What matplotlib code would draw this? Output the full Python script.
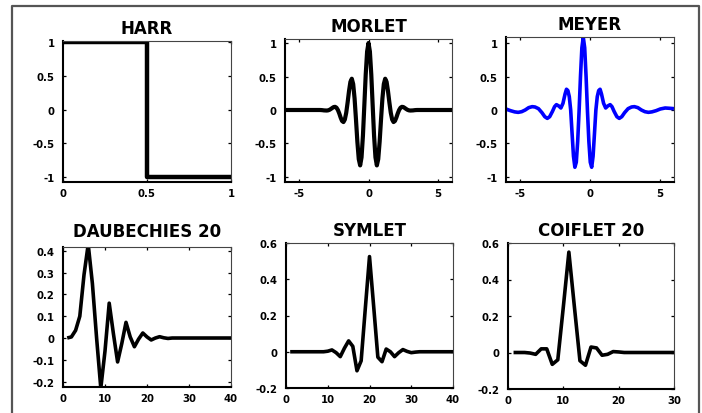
import numpy as np
import matplotlib.pyplot as plt
from matplotlib.lines import Line2D

plt.rcParams["font.family"] = "DejaVu Sans"
plt.rcParams["font.weight"] = "bold"

# Haar step
harr_x = [0, 0.5, 0.5, 1]
harr_y = [1, 1, -1, -1]

# Morlet, sampled every 0.1 around the centre
morlet_x = [-6.0, -3.5, -3.4, -3.3, -3.2, -3.1, -3.0, -2.9, -2.8, -2.7, -2.6,
            -2.5, -2.4, -2.3, -2.2, -2.1, -2.0, -1.9, -1.8, -1.7, -1.6, -1.5,
            -1.4, -1.3, -1.2, -1.1, -1.0, -0.9, -0.8, -0.7, -0.6, -0.5, -0.4,
            -0.3, -0.2, -0.1, 0.0, 0.1, 0.2, 0.3, 0.4, 0.5, 0.6, 0.7, 0.8,
            0.9, 1.0, 1.1, 1.2, 1.3, 1.4, 1.5, 1.6, 1.7, 1.8, 1.9, 2.0, 2.1,
            2.2, 2.3, 2.4, 2.5, 2.6, 2.7, 2.8, 2.9, 3.0, 3.1, 3.2, 3.3, 3.4,
            3.5, 6.0]
morlet_y = [0.0, 0.0, -0.001, -0.003, -0.006, -0.007, -0.008, -0.005, 0.003,
            0.016, 0.031, 0.044, 0.047, 0.034, 0.0, -0.052, -0.114, -0.164,
            -0.180, -0.142, -0.040, 0.113, 0.283, 0.420, 0.467, 0.387, 0.172,
            -0.141, -0.475, -0.733, -0.827, -0.707, -0.384, 0.068, 0.530,
            0.873, 1.0, 0.873, 0.530, 0.068, -0.384, -0.707, -0.827, -0.733,
            -0.475, -0.141, 0.172, 0.387, 0.467, 0.420, 0.283, 0.113, -0.040,
            -0.142, -0.180, -0.164, -0.114, -0.052, 0.0, 0.034, 0.047, 0.044,
            0.031, 0.016, 0.003, -0.005, -0.008, -0.007, -0.006, -0.003,
            -0.001, 0.0, 0.0]

# Meyer (centred a little left of zero)
meyer_x = [-6.00, -5.68, -5.38, -5.13, -4.88, -4.63, -4.38, -4.13, -3.93,
           -3.68, -3.43, -3.23, -3.05, -2.88, -2.68, -2.53, -2.40, -2.23,
           -2.08, -1.93, -1.78, -1.68, -1.58, -1.48, -1.38, -1.28, -1.18,
           -1.08, -0.98, -0.88, -0.78, -0.68, -0.58, -0.48, -0.38, -0.28,
           -0.18, -0.08, 0.02, 0.12, 0.22, 0.32, 0.42, 0.52, 0.62, 0.72,
           0.82, 0.97, 1.12, 1.27, 1.44, 1.57, 1.72, 1.92, 2.09, 2.27, 2.47,
           2.72, 2.97, 3.17, 3.42, 3.67, 3.92, 4.17, 4.42, 4.72, 5.02, 5.37,
           5.72, 6.00]
meyer_y = [0.015, -0.01, -0.028, -0.035, -0.025, 0.0, 0.035, 0.05, 0.045,
           0.02, -0.04, -0.10, -0.125, -0.10, -0.02, 0.05, 0.08, 0.06, 0.03,
           0.10, 0.24, 0.31, 0.29, 0.20, 0.0, -0.35, -0.69, -0.855, -0.78,
           -0.47, -0.02, 0.50, 0.93, 1.085, 0.93, 0.50, -0.02, -0.47, -0.78,
           -0.855, -0.69, -0.35, 0.0, 0.20, 0.29, 0.31, 0.24, 0.10, 0.03,
           0.06, 0.08, 0.05, -0.02, -0.10, -0.125, -0.10, -0.04, 0.02, 0.045,
           0.05, 0.035, 0.0, -0.025, -0.035, -0.028, -0.01, 0.015, 0.03,
           0.025, 0.02]

# filter-type wavelets, one value per sample index
daub_y = [0.0, 0.005, 0.035, 0.10, 0.29, 0.43, 0.25, 0.0, -0.23, -0.06,
          0.16, 0.02, -0.11, -0.025, 0.072, 0.005, -0.04, -0.005, 0.023,
          0.005, -0.009, 0.0, 0.006, 0.001, -0.002, 0.0, 0.0, 0.0, 0.0, 0.0,
          0.0, 0.0, 0.0, 0.0, 0.0, 0.0, 0.0, 0.0, 0.0, 0.0]
sym_y = [0.0, 0.0, 0.0, 0.0, 0.0, 0.0, 0.0, 0.0, 0.0, 0.003, 0.01, -0.005,
         -0.027, 0.02, 0.06, 0.03, -0.105, -0.05, 0.24, 0.525, 0.25, -0.03,
         -0.055, 0.015, 0.0, -0.027, -0.005, 0.012, 0.002, -0.005, -0.002,
         0.0, 0.0, 0.0, 0.0, 0.0, 0.0, 0.0, 0.0, 0.0]
coif_y = [0.0, 0.0, 0.0, -0.003, -0.01, 0.02, 0.02, -0.065, -0.04, 0.25,
          0.55, 0.25, -0.045, -0.07, 0.03, 0.025, -0.015, -0.01, 0.005,
          0.003, 0.0, 0.0, 0.0, 0.0, 0.0, 0.0, 0.0, 0.0, 0.0, 0.0]
daub_x = list(range(1, len(daub_y) + 1))
sym_x = list(range(1, len(sym_y) + 1))
coif_x = list(range(1, len(coif_y) + 1))

W, H = 702, 414
fig = plt.figure(figsize=(W / 100, H / 100), dpi=100)


def panel(box, title, x, y, xlim, ylim, xt, xtl, yt, ytl, color="black",
          lw=2.6, pad=6):
    l, t, r, b = box
    ax = fig.add_axes([l / W, 1 - b / H, (r - l) / W, (b - t) / H])
    ax.plot(x, y, color=color, lw=lw, solid_joinstyle="round",
            solid_capstyle="butt")
    ax.set_xlim(xlim)
    ax.set_ylim(ylim)
    ax.set_xticks(xt)
    ax.set_xticklabels(xtl)
    ax.set_yticks(yt)
    ax.set_yticklabels(ytl)
    ax.tick_params(direction="in", top=True, right=True, length=2.5,
                   width=0.9, labelsize=7.3)
    ax.tick_params(axis="x", pad=4)
    ax.tick_params(axis="y", pad=6)
    # heavy left/bottom edges, lighter top/right like the source
    ax.spines["left"].set_linewidth(1.5)
    ax.spines["bottom"].set_linewidth(1.5)
    for s in ("top", "right"):
        ax.spines[s].set_linewidth(0.8)
        ax.spines[s].set_color("#444444")
    ax.set_title(title, fontsize=12, fontweight="bold", pad=pad)
    return ax


unit_y = [-1, -0.5, 0, 0.5, 1]
unit_yl = ["-1", "-0.5", "0", "0.5", "1"]

panel((63, 42, 231, 183), "HARR", harr_x, harr_y, (0, 1), (-1.075, 1.02),
      [0, 0.5, 1], ["0", "0.5", "1"], unit_y, unit_yl, lw=3.2)
panel((285, 40, 452, 183), "MORLET", morlet_x, morlet_y, (-6, 6),
      (-1.075, 1.06), [-5, 0, 5], ["-5", "0", "5"], unit_y, unit_yl, lw=3.0)
panel((506, 38, 674, 183), "MEYER", meyer_x, meyer_y, (-6, 6),
      (-1.075, 1.09), [-5, 0, 5], ["-5", "0", "5"], unit_y, unit_yl,
      color="#0000ff", lw=2.6)

panel((63, 248, 231, 388), "DAUBECHIES 20", daub_x, daub_y, (0, 40),
      (-0.225, 0.418), [0, 10, 20, 30, 40], ["0", "10", "20", "30", "40"],
      [-0.2, -0.1, 0, 0.1, 0.2, 0.3, 0.4],
      ["-0.2", "-0.1", "0", "0.1", "0.2", "0.3", "0.4"], pad=8)
panel((286, 244, 453, 389), "SYMLET", sym_x, sym_y, (0, 40), (-0.2, 0.6),
      [0, 10, 20, 30, 40], ["0", "10", "20", "30", "40"],
      [-0.2, 0, 0.2, 0.4, 0.6], ["-0.2", "0", "0.2", "0.4", "0.6"])
panel((508, 244, 674, 390), "COIFLET 20", coif_x, coif_y, (0, 30),
      (-0.2, 0.6), [0, 10, 20, 30], ["0", "10", "20", "30"],
      [-0.2, 0, 0.2, 0.4, 0.6], ["-0.2", "0", "0.2", "0.4", "0.6"])

# grey border round the whole figure
fx = [12 / W, 12 / W, 699 / W, 699 / W]
fy = [0, 1 - 7 / H, 1 - 7 / H, 0]
fig.add_artist(Line2D(fx, fy, color="#555555", lw=1.6))

fig.savefig("out.png", dpi=100)
